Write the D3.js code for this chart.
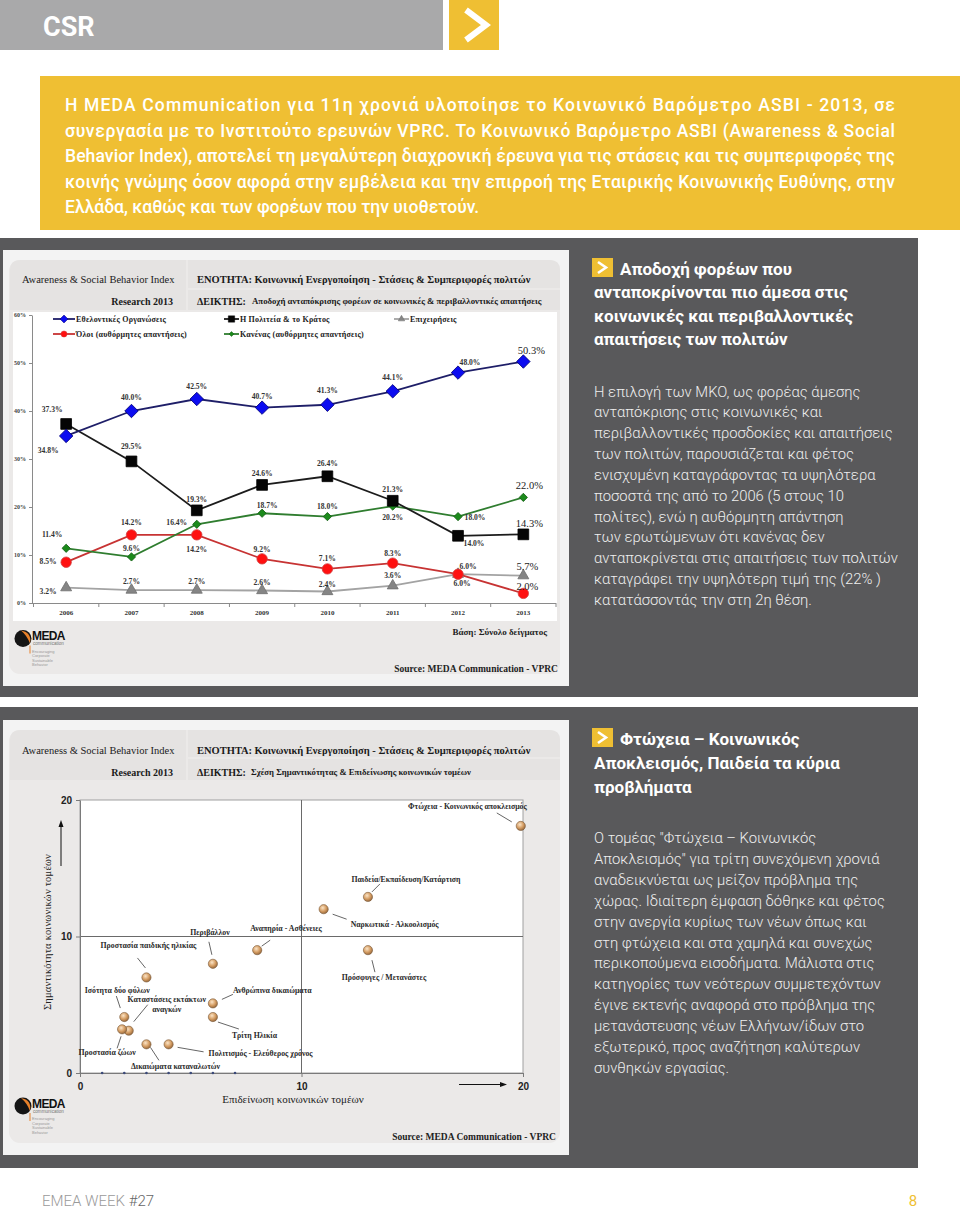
<!DOCTYPE html>
<html><head><meta charset="utf-8">
<script src="https://cdn.jsdelivr.net/npm/d3@7/dist/d3.min.js"></script>
<style>html,body{margin:0;padding:0;background:#fff}svg{display:block}</style>
</head><body>
<svg id="page" width="960" height="1210"></svg>
<script>
// ---------------- DATA ----------------
const years = ["2006","2007","2008","2009","2010","2011","2012","2013"];
const ngoValues      = [34.8, 40.0, 42.5, 40.7, 41.3, 44.1, 48.0, 50.3];
const stateValues    = [37.3, 29.5, 19.3, 24.6, 26.4, 21.3, 14.0, 14.3];
const businessValues = [3.2, 2.7, 2.7, 2.6, 2.4, 3.6, 6.0, 5.7];
const everyoneValues = [8.5, 14.2, 14.2, 9.2, 7.1, 8.3, 6.0, 2.0];
const nobodyValues   = [11.4, 9.6, 16.4, 18.7, 18.0, 20.2, 18.0, 22.0];
const lineSeriesNames = ["Εθελοντικές Οργανώσεις", "Η Πολιτεία & το Κράτος", "Επιχειρήσεις",
                         "Όλοι (αυθόρμητες απαντήσεις)", "Κανένας (αυθόρμητες απαντήσεις)"];
const percentTicks = [0, 10, 20, 30, 40, 50, 60];

const sectorNames = ["Φτώχεια - Κοινωνικός αποκλεισμός", "Παιδεία/Εκπαίδευση/Κατάρτιση",
  "Ναρκωτικά - Αλκοολισμός", "Πρόσφυγες / Μετανάστες", "Αναπηρία - Ασθένειες", "Περιβάλλον",
  "Προστασία παιδικής ηλικίας", "Ανθρώπινα δικαιώματα", "Τρίτη Ηλικία", "Ισότητα δύο φύλων",
  "Καταστάσεις εκτάκτων\nαναγκών", "Προστασία ζώων", "Δικαιώματα καταναλωτών", "Πολιτισμός - Ελεύθερος χρόνος"];
const worseningValues  = [19.9, 13.0, 11.0, 13.0, 8.0, 6.0, 3.0, 6.0, 6.0, 2.0, 2.2, 1.9, 3.0, 4.0];
const importanceValues = [18.1, 12.9, 12.0, 9.0, 9.0, 8.0, 7.0, 5.1, 4.1, 4.1, 3.1, 3.2, 2.1, 2.1];
const scatterTicks = [0, 10, 20];
const baselineDots = [1, 2, 3, 4, 5, 6, 7];

// ---------------- TEXTS ----------------
const introLines = [
  "Η MEDA Communication για 11η χρονιά υλοποίησε το Κοινωνικό Βαρόμετρο ASBI - 2013, σε",
  "συνεργασία με το Ινστιτούτο ερευνών VPRC. Το Κοινωνικό Βαρόμετρο ASBI (Awareness & Social",
  "Behavior Index), αποτελεί τη μεγαλύτερη διαχρονική έρευνα για τις στάσεις και τις συμπεριφορές της",
  "κοινής γνώμης όσον αφορά στην εμβέλεια και την επιρροή της Εταιρικής Κοινωνικής Ευθύνης, στην",
  "Ελλάδα, καθώς και των φορέων που την υιοθετούν."];
const head1 = ["Αποδοχή φορέων που", "ανταποκρίνονται πιο άμεσα στις", "κοινωνικές και περιβαλλοντικές", "απαιτήσεις των πολιτών"];
const body1 = ["Η επιλογή των ΜΚΟ, ως φορέας άμεσης", "ανταπόκρισης στις κοινωνικές και",
  "περιβαλλοντικές προσδοκίες και απαιτήσεις", "των πολιτών, παρουσιάζεται και φέτος",
  "ενισχυμένη καταγράφοντας τα υψηλότερα", "ποσοστά της από το 2006 (5 στους 10",
  "πολίτες), ενώ η αυθόρμητη απάντηση", "των ερωτώμενων ότι κανένας δεν",
  "ανταποκρίνεται στις απαιτήσεις των πολιτών", "καταγράφει την υψηλότερη τιμή της (22% )",
  "κατατάσσοντάς την στη 2η θέση."];
const head2 = ["Φτώχεια – Κοινωνικός", "Αποκλεισμός, Παιδεία τα κύρια", "προβλήματα"];
const body2 = ["Ο τομέας \"Φτώχεια – Κοινωνικός", "Αποκλεισμός\" για τρίτη συνεχόμενη χρονιά",
  "αναδεικνύεται ως μείζον πρόβλημα της", "χώρας. Ιδιαίτερη έμφαση δόθηκε και φέτος",
  "στην ανεργία κυρίως των νέων όπως και", "στη φτώχεια και στα χαμηλά και συνεχώς",
  "περικοπούμενα εισοδήματα. Μάλιστα στις", "κατηγορίες των νεότερων συμμετεχόντων",
  "έγινε εκτενής αναφορά στο πρόβλημα της", "μετανάστευσης νέων Ελλήνων/ίδων στο",
  "εξωτερικό, προς αναζήτηση καλύτερων", "συνθηκών εργασίας."];

// ---------------- STYLE (label placement) ----------------
const ngoLabelOffsets      = [[-18,14],[0,-14],[0,-13],[0,-11],[0,-14],[0,-14],[12,-10],[8,-11]];
const stateLabelOffsets    = [[-14,-15],[0,-15],[0,-11],[0,-12],[0,-13],[0,-11],[16,8],[6,-11]];
const nobodyLabelOffsets   = [[-14,-14],[0,-9],[-20,-2],[5,-8],[0,-10],[0,11],[17,1],[6,-12]];
const everyoneLabelOffsets = [[-18,-1],[0,-13],[0,14],[0,-10],[0,-11],[0,-10],[10,-8],[4,-7]];
const businessLabelOffsets = [[-18,4],[0,-9],[0,-9],[0,-8],[0,-7],[0,-10],[4,9],[4,-9]];
// [dx, dy, anchor, leaderX1, leaderY1, leaderX2, leaderY2]
const sectorLabelStyle = [
  [6,-20,"end",-24,-13,-9,-4], [38,-18,"middle",12,-13,4,-5], [27,15,"start",9,5,23,10],
  [16,27,"middle",4,10,7,22], [-7,-22,"start",4.5,-4,13,-10], [-3,-32,"middle",-4,-22,-1,-9],
  [2,-32,"middle",-9,-19.5,-1,-9.5], [20,-13,"start",9,-4,20,-9], [19,18,"start",5,5,26,12],
  [-7,-27,"middle",-8,-21,-4,-9], [38,-31,"middle",5,-9,19,-26], [-15,23,"middle",-5,19,-1,7],
  [29,22,"middle",4,3,12.5,16], [40,8.5,"start",9,3,35,7.5]];

const SERIF = "'Liberation Serif','DejaVu Serif',serif";
const SANS = "Roboto,'Open Sans',sans-serif";
const YELLOW = "#efbf33";
const DARK = "#59595b";

const svg = d3.select("#page");
const defs = svg.append("defs");
const grad = defs.append("radialGradient").attr("id","ball").attr("cx","0.4").attr("cy","0.35").attr("r","0.7");
grad.append("stop").attr("offset","0%").attr("stop-color","#fbe4c6");
grad.append("stop").attr("offset","55%").attr("stop-color","#d49c62");
grad.append("stop").attr("offset","100%").attr("stop-color","#8d6036");

// fit helper: font size so that text width matches a target width
function fitFont(textSel, target){
  const fs = parseFloat(textSel.attr("font-size"));
  const w = textSel.node().getComputedTextLength();
  textSel.attr("font-size", fs*target/w);
}

// ---------------- HEADER ----------------
svg.append("rect").attr("x",0).attr("y",0).attr("width",443).attr("height",50).attr("fill","#a9a9aa");
svg.append("text").attr("x",43).attr("y",36).text("CSR").attr("font-family",SANS).attr("font-weight",700)
  .attr("font-size",27).attr("fill","#fff");
svg.append("rect").attr("x",449).attr("y",0).attr("width",50).attr("height",50).attr("fill",YELLOW);
svg.append("path").attr("d","M466,10 L486,25 L466,40").attr("fill","none").attr("stroke","#fff")
  .attr("stroke-width",6);

// ---------------- INTRO BOX ----------------
svg.append("rect").attr("x",40).attr("y",76).attr("width",920).attr("height",154).attr("fill",YELLOW);
const intro = svg.append("g").attr("font-family",SANS).attr("font-weight",500).attr("fill","#fff");
const introT = intro.selectAll("text").data(introLines).join("text")
  .attr("x",65).attr("y",(d,i)=>111+i*25.5).attr("font-size",16).text(d=>d);
{
  const w = introT.filter((d,i)=>i===2).node().getComputedTextLength();
  const fs = 16*822/w;
  introT.attr("font-size",fs);
  introT.filter((d,i)=>i<4).attr("textLength",830).attr("lengthAdjust","spacing");
}

// ---------------- PANELS ----------------
svg.append("rect").attr("x",0).attr("y",238).attr("width",918).attr("height",459).attr("fill",DARK);
svg.append("rect").attr("x",0).attr("y",707).attr("width",918).attr("height",461).attr("fill",DARK);

function card(top, bottom, hdrMid, hdrBottom){
  svg.append("rect").attr("x",3).attr("y",top-10).attr("width",566).attr("height",bottom-top+22).attr("fill","#f3f3f3");
  svg.append("rect").attr("x",9).attr("y",top).attr("width",551).attr("height",bottom-top).attr("rx",11).attr("fill","#ebe9e8");
  svg.append("path").attr("d",`M10,${hdrBottom} V${top+10} Q10,${top} 20,${top} H186 V${hdrBottom} Z`).attr("fill","#e5e3e2");
  svg.append("path").attr("d",`M188,${top} H550 Q560,${top} 560,${top+10} V${hdrMid} H188 Z`).attr("fill","#e5e3e2");
  svg.append("rect").attr("x",188).attr("y",hdrMid+2).attr("width",372).attr("height",hdrBottom-hdrMid-2).attr("fill","#e5e3e2");
}
function cardHeader(yTop, yBot, subtitle){
  const g = svg.append("g").attr("font-family",SERIF).attr("fill","#1a1a1a");
  g.append("text").attr("x",22).attr("y",yTop).attr("font-size",10.5).text("Awareness & Social Behavior Index");
  g.append("text").attr("x",173).attr("y",yBot).attr("font-size",10).attr("text-anchor","end").attr("font-weight","bold").text("Research  2013");
  g.append("text").attr("x",197).attr("y",yTop).attr("font-size",10.5).attr("font-weight","bold")
    .text("ΕΝΟΤΗΤΑ: Κοινωνική Ενεργοποίηση - Στάσεις & Συμπεριφορές πολιτών");
  g.append("text").attr("x",197).attr("y",yBot).attr("font-size",10).attr("font-weight","bold").text("ΔΕΙΚΤΗΣ:");
  const st = g.append("text").attr("x",subtitle.x).attr("y",yBot-1).attr("font-size",8).attr("font-weight","bold").text(subtitle.t);
  fitFont(st, subtitle.w);
}
function logo(cx, cy){
  const g = svg.append("g");
  g.append("circle").attr("cx",cx).attr("cy",cy).attr("r",8.5).attr("fill","#151515");
  g.append("path").attr("d",`M${cx-2},${cy-8} Q${cx+9},${cy-6} ${cx+7},${cy+5} Q${cx+4},${cy-3} ${cx-2},${cy-8} Z`).attr("fill","#e8812a");
  g.append("text").attr("x",cx+9).attr("y",cy+1.5).attr("font-family","'Liberation Sans',Arial,sans-serif")
    .attr("font-weight","bold").attr("font-size",12).attr("letter-spacing",-0.6).attr("fill","#111").text("MEDA");
  g.append("text").attr("x",cx+10).attr("y",cy+6.5).attr("font-family","'Liberation Sans',Arial,sans-serif")
    .attr("font-size",4.6).attr("fill","#777").text("communication");
  g.append("line").attr("x1",cx+7).attr("x2",cx+7).attr("y1",cy+7).attr("y2",cy+15).attr("stroke","#e8812a").attr("stroke-width",1);
  ["Encouraging","Corporate","Sustainable","Behavior"].forEach((t,i)=>{
    g.append("text").attr("x",cx+9).attr("y",cy+14+i*4.5).attr("font-family","'Liberation Sans',Arial,sans-serif")
      .attr("font-size",4).attr("fill","#999").text(t);
  });
}

// ---------------- LINE CHART ----------------
card(260, 674, 288, 310);
cardHeader(283, 305, {x:252, w:290, t:"Αποδοχή ανταπόκρισης φορέων σε κοινωνικές & περιβαλλοντικές απαιτήσεις"});
svg.append("rect").attr("x",13).attr("y",312).attr("width",544).attr("height",309).attr("fill","#fff");

const xB = d3.scaleBand().domain(years).range([33.5,556]);
const xc = d => xB(d) + xB.bandwidth()/2;
const yL = d3.scaleLinear().domain([0,60]).range([603,315]);
const gL = svg.append("g");

const ya = gL.append("g").attr("transform","translate(32,0)")
  .call(d3.axisLeft(yL).tickValues(percentTicks).tickSize(3).tickSizeOuter(0).tickPadding(3).tickFormat(d=>d+"%"));
ya.select(".domain").attr("stroke","#8a8a8a");
ya.selectAll(".tick line").attr("stroke","#8a8a8a");
ya.selectAll("text").attr("font-family",SERIF).attr("font-weight","bold").attr("font-size",6).attr("fill","#444");

const xa = gL.append("g").attr("transform","translate(0,603)")
  .call(d3.axisBottom(xB).tickSize(0).tickSizeOuter(0).tickPadding(7.5));
xa.select(".domain").attr("stroke","#8a8a8a").attr("d","M32,0.5H556");
xa.selectAll("text").attr("font-family",SERIF).attr("font-weight","bold").attr("font-size",7).attr("fill","#333");
gL.append("g").selectAll("line").data(years.map(y=>xB(y)).concat([556])).join("line")
  .attr("x1",d=>d).attr("x2",d=>d).attr("y1",603).attr("y2",607).attr("stroke","#8a8a8a");

const lineSeries = [
  {name:lineSeriesNames[2], values:businessValues, line:"#a3a3a3", fill:"#858585", stroke:"#6f6f6f", sym:d3.symbolTriangle, size:52, rot:0, offs:businessLabelOffsets},
  {name:lineSeriesNames[3], values:everyoneValues, line:"#c73333", fill:"#ff1010", stroke:"#d04040", sym:d3.symbolCircle, size:85, rot:0, offs:everyoneLabelOffsets},
  {name:lineSeriesNames[4], values:nobodyValues, line:"#2f7d2f", fill:"#1b8a1b", stroke:"#146014", sym:d3.symbolSquare, size:34, rot:45, offs:nobodyLabelOffsets},
  {name:lineSeriesNames[1], values:stateValues, line:"#1c1c1c", fill:"#050505", stroke:"#000", sym:d3.symbolSquare, size:115, rot:0, offs:stateLabelOffsets},
  {name:lineSeriesNames[0], values:ngoValues, line:"#1e1e68", fill:"#0c0cf0", stroke:"#00007a", sym:d3.symbolSquare, size:90, rot:45, offs:ngoLabelOffsets}
];
const lineGen = d3.line().x((d,i)=>xc(years[i])).y(d=>yL(d));
lineSeries.forEach(s=>{
  gL.append("path").attr("d",lineGen(s.values)).attr("fill","none").attr("stroke",s.line).attr("stroke-width",1.8);
});
lineSeries.forEach(s=>{
  gL.append("g").selectAll("path").data(s.values).join("path")
    .attr("d",d3.symbol().type(s.sym).size(s.size))
    .attr("transform",(d,i)=>`translate(${xc(years[i])},${yL(d)}) rotate(${s.rot})`)
    .attr("fill",s.fill).attr("stroke",s.stroke).attr("stroke-width",0.8);
});
lineSeries.forEach(s=>{
  gL.append("g").selectAll("text").data(s.values).join("text")
    .attr("x",(d,i)=>xc(years[i])+s.offs[i][0]).attr("y",(d,i)=>yL(d)+s.offs[i][1])
    .attr("dy","0.35em").attr("text-anchor","middle").attr("font-family",SERIF)
    .attr("font-weight",(d,i)=>i===7?"normal":"bold").attr("font-size",(d,i)=>i===7?10.5:7.6)
    .attr("fill",(d,i)=>i===7?"#222":"#333").text(d=>d.toFixed(1)+"%");
});
// legend
const legendPos = [[53,319],[224,319],[394,319],[53,334],[224,334]];
const legendOrder = [4,3,0,1,2];
legendPos.forEach((p,k)=>{
  const s = lineSeries[legendOrder[k]];
  const w = k===0||k===3 ? 22 : 15;
  const g = gL.append("g");
  g.append("line").attr("x1",p[0]).attr("x2",p[0]+w).attr("y1",p[1]).attr("y2",p[1]).attr("stroke",s.line).attr("stroke-width",1.8);
  g.append("path").attr("d",d3.symbol().type(s.sym).size(s.size*0.35)).attr("transform",`translate(${p[0]+w/2},${p[1]}) rotate(${s.rot})`)
    .attr("fill",s.fill).attr("stroke",s.stroke).attr("stroke-width",0.5);
  g.append("text").attr("x",p[0]+w+1).attr("y",p[1]).attr("dy","0.35em").attr("font-family",SERIF)
    .attr("font-weight","bold").attr("font-size",8).attr("letter-spacing",0.2).attr("fill","#222").text(s.name);
});
svg.append("text").attr("x",547).attr("y",635).attr("text-anchor","end").attr("font-family",SERIF).attr("font-weight","bold")
  .attr("font-size",9).attr("fill","#222").text("Βάση: Σύνολο δείγματος");
svg.append("text").attr("x",558).attr("y",672).attr("text-anchor","end").attr("font-family",SERIF).attr("font-weight","bold")
  .attr("font-size",9.5).attr("fill","#222").text("Source:  MEDA Communication - VPRC");
logo(23, 638.5);

// ---------------- SCATTER ----------------
card(730, 1143, 757, 780);
cardHeader(754, 775.5, {x:251, w:220, t:"Σχέση Σημαντικότητας & Επιδείνωσης κοινωνικών τομέων"});
const xS = d3.scaleLinear().domain([0,20]).range([80,523]);
const yS = d3.scaleLinear().domain([0,20]).range([1073,800]);
const gS = svg.append("g");
gS.append("rect").attr("x",xS(0)).attr("y",yS(20)).attr("width",xS(20)-xS(0)).attr("height",yS(0)-yS(20))
  .attr("fill","#fff").attr("stroke","#a0a0a0").attr("stroke-width",1);
gS.append("line").attr("x1",xS(10)).attr("x2",xS(10)).attr("y1",yS(20)).attr("y2",yS(0)).attr("stroke","#6a6a6a");
gS.append("line").attr("x1",xS(0)).attr("x2",xS(20)).attr("y1",yS(10)).attr("y2",yS(10)).attr("stroke","#6a6a6a");
const sya = gS.append("g").attr("transform",`translate(${xS(0)},0)`)
  .call(d3.axisLeft(yS).tickValues(scatterTicks).tickSize(4).tickSizeOuter(0).tickPadding(4));
const sxa = gS.append("g").attr("transform",`translate(0,${yS(0)})`)
  .call(d3.axisBottom(xS).tickValues(scatterTicks).tickSize(4).tickSizeOuter(0).tickPadding(6));
[sya,sxa].forEach(a=>{
  a.select(".domain").attr("stroke","#7a7a7a");
  a.selectAll(".tick line").attr("stroke","#7a7a7a");
  a.selectAll("text").attr("font-family","'Liberation Sans',Arial,sans-serif").attr("font-weight","bold").attr("font-size",10).attr("fill","#222");
});
gS.append("g").selectAll("circle").data(baselineDots).join("circle")
  .attr("cx",d=>xS(d)).attr("cy",yS(0)).attr("r",1.3).attr("fill","#3b4a7a");
// axis titles & arrows
svg.append("text").attr("transform","translate(51,932) rotate(-90)").attr("text-anchor","middle")
  .attr("font-family",SERIF).attr("font-size",10.5).attr("letter-spacing",0.2).attr("fill","#222").text("Σημαντικότητα κοινωνικών τομέων");
svg.append("text").attr("x",293).attr("y",1103).attr("text-anchor","middle")
  .attr("font-family",SERIF).attr("font-size",11).attr("fill","#222").text("Επιδείνωση κοινωνικών τομέων");
svg.append("line").attr("x1",61).attr("x2",61).attr("y1",866).attr("y2",826).attr("stroke","#111").attr("stroke-width",1);
svg.append("path").attr("d","M58.5,827 L61,820 L63.5,827 Z").attr("fill","#111");
svg.append("line").attr("x1",459).attr("x2",501).attr("y1",1084.5).attr("y2",1084.5).attr("stroke","#111").attr("stroke-width",1);
svg.append("path").attr("d","M500,1082 L507,1084.5 L500,1087 Z").attr("fill","#111");
// leaders, points, labels
const pts = sectorNames.map((n,i)=>({n, x:xS(worseningValues[i]), y:yS(importanceValues[i]), st:sectorLabelStyle[i]}));
gS.append("g").selectAll("line").data(pts).join("line")
  .attr("x1",d=>d.x+d.st[3]).attr("y1",d=>d.y+d.st[4]).attr("x2",d=>d.x+d.st[5]).attr("y2",d=>d.y+d.st[6])
  .attr("stroke","#555").attr("stroke-width",0.9);
gS.append("g").selectAll("circle").data(pts).join("circle")
  .attr("cx",d=>d.x).attr("cy",d=>d.y).attr("r",4.6).attr("fill","url(#ball)").attr("stroke","#7b5a3a").attr("stroke-width",0.6);
pts.forEach(d=>{
  const lines = d.n.split("\n");
  lines.forEach((t,k)=>{
    gS.append("text").attr("x",d.x+d.st[0]).attr("y",d.y+d.st[1]+k*9.5).attr("dy","0.35em")
      .attr("text-anchor",d.st[2]).attr("font-family",SERIF).attr("font-weight","bold")
      .attr("font-size",7.8).attr("fill","#2a2a2a").text(t);
  });
});
svg.append("text").attr("x",556).attr("y",1140).attr("text-anchor","end").attr("font-family",SERIF).attr("font-weight","bold")
  .attr("font-size",9.5).attr("fill","#222").text("Source:  MEDA Communication - VPRC");
logo(23, 1106);

// ---------------- RIGHT TEXT COLUMNS ----------------
function icon(x,y){
  svg.append("rect").attr("x",x).attr("y",y).attr("width",21).attr("height",19).attr("fill",YELLOW);
  svg.append("path").attr("d",`M${x+6},${y+4} L${x+14},${y+9.5} L${x+6},${y+15}`).attr("fill","none")
    .attr("stroke","#fff").attr("stroke-width",2.6);
}
function column(head, body, iconY, headBase, headStep, bodyBase, bodyStep, fsH, fsB){
  icon(592, iconY);
  svg.append("g").attr("font-family",SANS).attr("font-weight",700).attr("fill","#fff").attr("font-size",fsH)
    .selectAll("text").data(head).join("text").attr("x",(d,i)=>i===0?620:594).attr("y",(d,i)=>headBase+i*headStep).text(d=>d);
  svg.append("g").attr("font-family",SANS).attr("font-weight",300).attr("fill","#efefef").attr("font-size",fsB)
    .selectAll("text").data(body).join("text").attr("x",594).attr("y",(d,i)=>bodyBase+i*bodyStep).text(d=>d);
}
const probe = svg.append("text").attr("font-family",SANS);
probe.attr("font-weight",700).attr("font-size",16).text(head1[1]);
const fsH = 16*254/probe.node().getComputedTextLength();
probe.attr("font-weight",300).attr("font-size",15).text(body1[2]);
const fsB = 15*299/probe.node().getComputedTextLength();
probe.remove();
column(head1, body1, 258, 274.5, 23.5, 396.5, 20.85, fsH, fsB);
column(head2, body2, 728, 745, 24, 842.7, 20.96, fsH, fsB);

// ---------------- FOOTER ----------------
const ft = svg.append("text").attr("x",42).attr("y",1206).attr("font-family",SANS).attr("font-weight",300).attr("font-size",15);
ft.append("tspan").attr("fill","#9a9a9a").text("EMEA WEEK ");
ft.append("tspan").attr("fill","#666").text("#27");
svg.append("text").attr("x",913).attr("y",1206).attr("text-anchor","middle").attr("font-family",SANS).attr("font-weight",400)
  .attr("font-size",15).attr("fill",YELLOW).text("8");
</script>
</body></html>
